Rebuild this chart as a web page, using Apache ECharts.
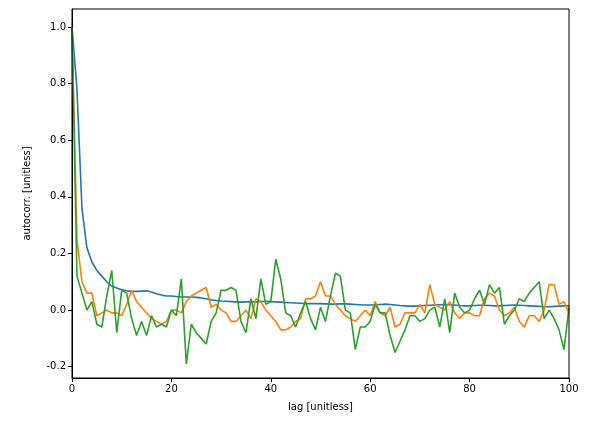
<!DOCTYPE html>
<html><head><meta charset="utf-8">
<script src="https://cdn.jsdelivr.net/npm/echarts@6/dist/echarts.min.js"></script>
<style>html,body{margin:0;padding:0;background:#fff}#c{width:592px;height:432px}</style>
</head><body><div id="c"></div>
<script>
const blue = [1.0,0.78,0.36,0.22,0.17,0.14,0.12,0.10,0.085,0.078,0.072,0.068,0.066,0.066,0.067,0.068,0.064,0.058,0.053,0.05,0.05,0.048,0.046,0.046,0.046,0.045,0.043,0.040,0.036,0.034,0.032,0.031,0.030,0.029,0.028,0.029,0.030,0.029,0.030,0.031,0.030,0.029,0.028,0.027,0.026,0.025,0.024,0.023,0.023,0.023,0.023,0.022,0.021,0.021,0.022,0.022,0.021,0.020,0.019,0.018,0.018,0.019,0.020,0.021,0.020,0.018,0.016,0.015,0.014,0.014,0.015,0.016,0.017,0.018,0.019,0.020,0.019,0.018,0.016,0.015,0.015,0.016,0.017,0.017,0.016,0.015,0.015,0.016,0.017,0.018,0.017,0.016,0.015,0.014,0.013,0.012,0.012,0.013,0.014,0.015,0.015];
const orange = [1.0,0.25,0.1,0.06,0.06,-0.02,-0.01,0.0,-0.01,-0.01,-0.02,0.02,0.07,0.03,0.01,-0.01,-0.03,-0.04,-0.05,-0.04,0.0,0.0,-0.01,0.03,0.05,0.06,0.07,0.08,0.01,0.02,0.0,-0.01,-0.04,-0.04,-0.02,0.0,-0.03,0.04,0.03,0.0,-0.02,-0.04,-0.07,-0.07,-0.06,-0.04,-0.03,0.04,0.04,0.05,0.1,0.05,0.05,0.02,0.0,-0.02,-0.03,-0.04,-0.02,0.0,-0.02,0.03,-0.01,-0.02,0.01,-0.06,-0.05,-0.01,-0.01,-0.01,0.02,-0.01,0.09,0.02,0.01,0.0,0.03,-0.01,-0.03,-0.01,-0.01,-0.02,-0.02,0.04,0.06,0.05,0.0,-0.02,-0.01,0.01,-0.04,-0.06,-0.02,-0.02,-0.04,0.0,0.09,0.09,0.02,0.03,-0.01];
const green = [1.0,0.12,0.06,0.0,0.03,-0.05,-0.06,0.05,0.14,-0.08,0.07,0.06,-0.03,-0.09,-0.04,-0.09,-0.02,-0.06,-0.05,-0.06,0.0,-0.02,0.11,-0.19,-0.05,-0.08,-0.1,-0.12,-0.04,-0.01,0.07,0.07,0.08,0.07,-0.04,-0.08,0.04,-0.03,0.11,0.02,0.03,0.18,0.11,-0.01,-0.02,-0.06,-0.01,0.03,-0.03,-0.07,0.01,-0.04,0.05,0.13,0.12,0.0,-0.01,-0.14,-0.06,-0.06,-0.04,0.02,-0.01,-0.01,-0.09,-0.15,-0.11,-0.07,-0.02,-0.02,-0.04,-0.03,0.0,0.01,-0.06,0.04,-0.08,0.06,0.01,-0.01,0.0,0.04,0.07,0.02,0.09,0.06,0.08,-0.05,-0.02,0.0,0.04,0.03,0.06,0.08,0.1,-0.03,0.0,-0.03,-0.07,-0.14,0.01,-0.02];
const yTicks = [-0.2,0,0.2,0.4,0.6,0.8,1.0];
const xTicks = [0,20,40,60,80,100];
const lag = blue.map((_, i) => i);
const pair = a => a.map((v, i) => [lag[i], v]);
const font = 'DejaVu Sans';
const ax = {color:'#000', fontFamily:font, fontSize:10};
const chart = echarts.init(document.getElementById('c'));
chart.setOption({
  animation:false,
  grid:{left:72,right:23,top:9,bottom:54},
  xAxis:{type:'value',min:0,max:100,interval:20,name:'lag [unitless]',nameLocation:'middle',nameGap:24,
    nameTextStyle:{color:'#000',fontFamily:font,fontSize:10},
    axisLine:{onZero:false,lineStyle:{color:'#000'}},axisTick:{length:4,inside:false,lineStyle:{color:'#000'}},
    axisLabel:Object.assign({margin:6},ax),splitLine:{show:false}},
  yAxis:{type:'value',min:-0.24,max:1.064,name:'autocorr. [unitless]',nameLocation:'middle',nameGap:40,
    nameTextStyle:{color:'#000',fontFamily:font,fontSize:10},
    axisLine:{show:true,lineStyle:{color:'#000'}},
    axisTick:{show:true,length:4,customValues:yTicks,lineStyle:{color:'#000'}},
    axisLabel:Object.assign({customValues:yTicks,formatter:v=>v.toFixed(1),margin:6},ax),splitLine:{show:false}},
  series:[
    {type:'line',data:pair(blue),showSymbol:false,lineStyle:{color:'#1f77b4',width:1.6},itemStyle:{color:'#1f77b4'}},
    {type:'line',data:pair(orange),showSymbol:false,lineStyle:{color:'#ff7f0e',width:1.6},itemStyle:{color:'#ff7f0e'}},
    {type:'line',data:pair(green),showSymbol:false,lineStyle:{color:'#2ca02c',width:1.6},itemStyle:{color:'#2ca02c'}}
  ],
  graphic:[{type:'rect',shape:{x:72,y:9,width:497,height:369},style:{fill:'none',stroke:'#000',lineWidth:1},silent:true,z:100}]
});
</script></body></html>
